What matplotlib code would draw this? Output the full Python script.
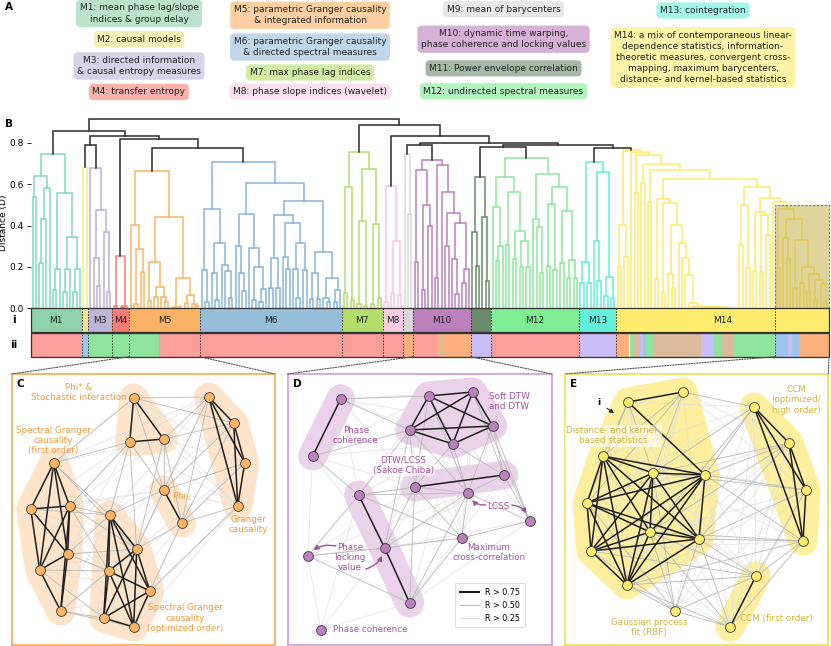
import numpy as np
import matplotlib
matplotlib.use('Agg')
import matplotlib.pyplot as plt
from matplotlib.patches import Rectangle, Polygon, ConnectionPatch
from matplotlib.collections import LineCollection
from matplotlib.lines import Line2D

W, H = 831, 646

# ---- modules -------------------------------------------------------------
MODULES = ['M1', 'M2', 'M3', 'M4', 'M5', 'M6', 'M7', 'M8', 'M9', 'M10', 'M11', 'M12', 'M13', 'M14']
BAR_COLORS = ['#8ed1aa', '#eee98a', '#bcb5d8', '#f47e73', '#fbb264', '#96bdd9', '#b3de69',
              '#fbcce4', '#d9d9d9', '#bc80bd', '#6a8a6b', '#7eed93', '#62f0da', '#ffec6e']
LINE_COLORS = ['#7fd8c0', '#f5f08a', '#b9b0dc', '#f47e73', '#fdb462', '#86b5d9', '#b3de69',
               '#fbc4e0', '#d9d9d9', '#bc80bd', '#6a8a6b', '#8ae89c', '#62f0da', '#ffea6a']
LEGEND_TEXT = [
    'M1: mean phase lag/slope\nindices & group delay',
    'M2: causal models',
    'M3: directed information\n& causal entropy measures',
    'M4: transfer entropy',
    'M5: parametric Granger causality\n& integrated information',
    'M6: parametric Granger causality\n& directed spectral measures',
    'M7: max phase lag indices',
    'M8: phase slope indices (wavelet)',
    'M9: mean of barycenters',
    'M10: dynamic time warping,\nphase coherence and locking values',
    'M11: Power envelope correlation',
    'M12: undirected spectral measures',
    'M13: cointegration',
    'M14: a mix of contemporaneous linear-\ndependence statistics, information-\n'
    'theoretic measures, convergent cross-\nmapping, maximum barycenters,\n'
    'distance- and kernel-based statistics',
]
LEGEND_POS = [(139, 13.5), (139, 39), (139, 66), (139, 92),
              (310, 15.3), (310, 47), (310, 72.5), (310, 91.7),
              (503.5, 9.2), (503.5, 39.2), (503.5, 68.3), (503.5, 91.3),
              (703, 10.5), (703, 57.3)]
UNLABELLED = ['M2', 'M9', 'M11']

# ---- dendrogram: (height, left, right), 0 = leaf ------------------------
M14_ZERO = (0.005, (0.003, (0.001, 0, 0), (0.002, 0, (0.001, 0, 0))),
            (0.004, (0.002, 0, 0), (0.003, (0.001, 0, 0), (0.002, 0, (0.001, 0, 0)))))
M14_D = (0.527, (0.14, 0, 0),
         (0.507, (0.073, 0, 0),
          (0.403, (0.165, 0, (0.097, 0, 0)),
           (0.314, 0, (0.242, 0, (0.162, 0, (0.025, 0, (0.012, 0, (0.006, 0, M14_ZERO)))))))))
M14_HIGHLIGHT = (0.478, (0.193, 0, 0),
                 (0.432, (0.342, 0, (0.24, 0, 0)),
                  (0.33, (0.1, 0, 0),
                   (0.2, (0.12, 0, 0),
                    (0.166, (0.08, 0, 0),
                     (0.136, (0.04, 0, 0), (0.116, 0, (0.03, 0, 0))))))))
M14_E = (0.588, (0.499, (0.306, 0, 0), (0.193, 0, 0)),
         (0.532, (0.467, (0.18, 0, 0), (0.451, (0.175, 0, 0), (0.354, 0, 0))),
          (0.512, 0, M14_HIGHLIGHT)))

TREES = {
    'M1': (0.744, (0.641, (0.536, 0, 0), (0.58, (0.43, (0.22, 0, 0), 0), 0)),
           (0.556, (0.19, (0.09, 0, 0), 0), (0.346, (0.19, (0.08, 0, 0), 0), (0.19, (0.08, 0, 0), 0)))),
    'M2': (0.684, 0, 0),
    'M3': (0.676, 0, (0.475, (0.242, 0, (0.11, 0, 0)), (0.367, 0, (0.08, 0, 0)))),
    'M4': (0.254, (0.01, 0, 0), (0.012, (0.005, 0, 0), 0)),
    'M5': (0.662, (0.403, 0, (0.285, (0.02, 0, 0), (0.174, 0, 0))),
           (0.44, (0.226, (0.035, 0, 0), (0.105, (0.055, 0, 0), (0.055, 0, (0.03, 0, 0)))),
            (0.145, (0.006, (0.003, 0, 0), (0.004, 0, 0)), (0.065, (0.025, 0, 0), (0.02, 0, (0.01, 0, 0)))))),
    'M6': (0.708, (0.478, (0.185, 0, (0.03, 0, 0)),
                   (0.317, (0.17, 0, (0.04, 0, 0)), (0.21, 0, (0.18, 0, (0.05, 0, 0))))),
           (0.604, (0.456, (0.3, 0, (0.17, 0, (0.085, 0, 0))),
                    (0.29, 0, (0.2, (0.04, 0, 0), (0.094, (0.03, 0, 0), 0)))),
            (0.519, (0.451, (0.242, (0.097, 0, 0), (0.097, 0, 0)),
                     (0.41, (0.25, 0, (0.19, 0, 0)), (0.315, (0.19, 0, (0.05, 0, 0)), (0.185, 0, 0)))),
             (0.274, (0.17, (0.045, 0, 0), (0.045, 0, 0)),
              (0.148, (0.05, 0, (0.03, 0, 0)), (0.09, (0.03, 0, 0), 0)))))),
    'M7': (0.757, (0.588, (0.073, 0, 0), (0.04, 0, 0)),
           (0.673, (0.42, (0.02, 0, 0), (0.01, 0, 0)), (0.405, (0.02, 0, 0), (0.05, 0, 0)))),
    'M8': (0.591, (0.03, 0, 0), (0.325, (0.073, 0, 0), (0.065, 0, 0))),
    'M9': (0.744, 0, (0.456, 0, 0)),
    'M10': (0.717, (0.668, (0.225, 0, 0), (0.5, (0.09, 0, 0), (0.4, 0, 0))),
            (0.692, (0.145, 0, 0),
             (0.563, 0, (0.46, (0.3, 0, 0), (0.41, (0.24, 0, (0.07, 0, 0)), (0.19, (0.12, 0, 0), 0)))))),
    'M11': (0.636, (0.37, 0, (0.206, 0, 0)), (0.443, 0, (0.13, 0, 0))),
    'M12': (0.728, (0.633, (0.49, 0, (0.303, (0.23, 0, 0), 0)),
                    (0.56, (0.306, 0, 0), (0.374, (0.238, 0, 0), (0.323, (0.2, 0, 0), (0.2, 0, 0))))),
            (0.649, (0.432, 0, (0.395, 0, (0.17, 0, 0))),
             (0.588, (0.504, (0.206, 0, 0), (0.185, 0, 0)),
              (0.47, (0.218, 0, 0), (0.234, (0.145, 0, 0), (0.145, 0, 0)))))),
    'M13': (0.708, (0.225, (0.12, 0, 0), (0.12, 0, 0)),
            (0.657, (0.323, 0, (0.13, 0, 0)), (0.153, (0.06, 0, 0), (0.05, 0, 0)))),
    'M14': (0.765, (0.402, (0.2, 0, 0), (0.25, 0, 0)),
            (0.757, 0, (0.741, (0.555, 0, 0), (0.696, (0.604, 0, 0),
                                                 (0.668, (0.512, 0, 0), (0.625, M14_D, M14_E)))))),
}
TOP_TREE = (0.915,
            (0.857, 'M1', (0.834, (0.789, 'M2', 'M3'), (0.818, 'M4', (0.773, 'M5', 'M6')))),
            (0.886, 'M7', (0.834, 'M8', (0.8, (0.787, 'M9', 'M10'),
                                         (0.79, (0.781, 'M11', 'M12'), (0.773, 'M13', 'M14'))))))
HIGHLIGHT_LEAVES = 16
HIGHLIGHT_TOP = 0.5
YTICKS = [0.0, 0.2, 0.4, 0.6, 0.8]

# ---- row ii categories ----------------------------------------------------
CATEGORY_COLORS = {'spectral': '#fb9d99', 'infotheory': '#8ee39d', 'causal': '#9ec5f0',
                   'distance': '#fdb07c', 'misc': '#cbbdf7', 'basic': '#dcbb9c'}
II_CATEGORIES = ['spectral', 'causal', 'infotheory', 'spectral', 'distance',
                 'spectral', 'distance', 'basic', 'distance', 'misc', 'spectral', 'misc',
                 'distance', 'infotheory', 'basic', 'misc', 'causal', 'infotheory', 'basic',
                 'misc', 'infotheory', 'basic', 'infotheory', 'causal', 'misc', 'causal', 'distance']
II_COUNTS = [15, 2, 21, 72, 3,
             7, 1, 1, 8, 6, 26, 11,
             4, 1, 2, 1, 1, 2, 14,
             4, 2, 4, 12, 4, 1, 2, 9]

# ---- networks (node positions in px from panel top-left) -----------------
C_NODES = [(122, 24), (118, 68), (152, 65), (197, 23), (222, 49), (233, 89), (226, 132),
           (152, 116), (170, 149), (42, 89), (19, 135), (58, 132), (56, 180), (28, 196),
           (49, 237), (98, 141), (125, 175), (97, 197), (138, 217), (92, 244), (122, 253)]
C_STRONG = [(0, 1), (0, 2), (1, 2), (3, 4), (3, 5), (3, 6), (4, 5), (4, 6), (5, 6), (7, 8),
            (9, 10), (9, 11), (9, 12), (9, 13), (10, 11), (10, 12), (10, 13), (11, 12), (11, 13),
            (11, 14), (12, 13), (12, 14), (13, 14),
            (15, 16), (15, 17), (15, 18), (15, 19), (15, 20), (16, 17), (16, 18), (16, 19),
            (16, 20), (17, 18), (17, 19), (17, 20), (18, 19), (18, 20), (19, 20)]
C_MEDIUM = [(9, 15), (11, 15), (11, 16), (12, 15), (12, 17), (13, 17), (14, 19), (14, 17),
            (10, 15), (12, 16), (11, 17), (13, 19), (14, 20), (9, 16), (0, 7), (1, 7), (2, 7),
            (2, 8), (3, 7), (4, 7), (5, 8), (6, 8), (4, 8), (2, 3), (0, 3), (1, 15), (2, 16),
            (7, 16), (8, 16), (8, 18), (7, 15), (6, 18), (1, 9), (0, 9), (1, 11), (2, 4),
            (5, 7), (3, 8), (0, 4), (1, 16)]
C_WEAK = [(9, 0), (9, 2), (10, 1), (11, 1), (11, 2), (12, 1), (12, 7), (13, 15), (14, 15),
          (14, 16), (10, 16), (10, 17), (13, 16), (12, 18), (11, 7), (15, 3), (16, 3), (17, 7),
          (19, 7), (20, 8), (18, 6), (17, 8), (16, 5), (15, 4), (0, 5), (1, 3), (2, 5), (0, 6),
          (1, 6), (2, 6), (6, 7), (8, 5), (9, 3), (19, 16), (20, 12), (13, 18), (10, 7),
          (14, 18), (20, 6), (19, 8)]
C_GROUPS = [[0, 1, 2], [3, 4, 5, 6], [7, 8], [9, 10, 11, 12, 13, 14], [15, 16, 17, 18, 19, 20]]

D_NODES = [(53, 25), (25, 82), (141, 22), (185, 18), (122, 56), (205, 52), (165, 70),
           (127, 113), (216, 101), (180, 119), (242, 147), (174, 164), (71, 121), (97, 174),
           (122, 229), (20, 182), (33, 256)]
D_STRONG = [(0, 1), (2, 3), (2, 4), (2, 5), (2, 6), (3, 4), (3, 5), (3, 6), (4, 5), (4, 6),
            (5, 6), (7, 8), (12, 13), (13, 14)]
D_MEDIUM = [(7, 9), (8, 9), (8, 10), (9, 11), (10, 11), (7, 11), (6, 7), (6, 8), (4, 7),
            (5, 8), (6, 9), (2, 7), (3, 8), (12, 7), (13, 7), (13, 11), (14, 11), (15, 13),
            (15, 14), (1, 12), (0, 2), (0, 4), (1, 4), (12, 4), (13, 4), (14, 7), (5, 9),
            (5, 10), (12, 11), (15, 12), (9, 10), (3, 10), (4, 9), (2, 9), (14, 9), (13, 9),
            (12, 9)]
D_WEAK = [(0, 3), (1, 2), (1, 6), (0, 6), (0, 12), (1, 15), (15, 16), (16, 14), (16, 12),
          (16, 13), (12, 6), (13, 6), (14, 6), (12, 2), (13, 2), (14, 8), (14, 10), (13, 8),
          (13, 10), (15, 11), (15, 7), (1, 7), (0, 7), (3, 9), (2, 10), (6, 11), (4, 11),
          (12, 8), (1, 13), (0, 5), (5, 11), (3, 11), (2, 11), (15, 9)]
D_GROUPS = [[0, 1], [2, 3, 4, 5, 6], [7, 8], [12, 13, 14]]

E_NODES = [(63, 28), (118, 18), (38, 82), (88, 99), (140, 101), (22, 129), (85, 158),
           (134, 165), (26, 177), (62, 211), (189, 33), (224, 69), (241, 116), (238, 167),
           (191, 202), (165, 253), (110, 237)]
E_STRONG = [(0, 1), (0, 4),
            (2, 3), (2, 4), (2, 5), (2, 6), (2, 7), (2, 8), (2, 9), (3, 4), (3, 5), (3, 6),
            (3, 7), (3, 8), (3, 9), (4, 5), (4, 6), (4, 7), (4, 8), (4, 9), (5, 6), (5, 7),
            (5, 8), (5, 9), (6, 7), (6, 8), (6, 9), (7, 8), (7, 9), (8, 9),
            (10, 11), (10, 12), (10, 13), (11, 12), (11, 13), (12, 13), (14, 15)]
E_MEDIUM = [(0, 2), (0, 3), (1, 3), (1, 2), (1, 5), (0, 5), (4, 10), (4, 11), (4, 12),
            (7, 12), (7, 13), (7, 14), (6, 14), (9, 14), (9, 15), (9, 16), (8, 16), (6, 16),
            (7, 16), (3, 10), (1, 10), (4, 13), (7, 11), (12, 14), (13, 14), (13, 15),
            (14, 16), (15, 16), (3, 16), (5, 16), (6, 10), (6, 11), (3, 11), (9, 13), (8, 14),
            (7, 15), (6, 15), (3, 12), (6, 13)]
E_WEAK = [(0, 6), (0, 7), (0, 8), (0, 9), (1, 6), (1, 7), (1, 9), (1, 8), (0, 10), (1, 11),
          (1, 12), (2, 10), (5, 10), (5, 11), (8, 13), (8, 12), (9, 12), (9, 11), (9, 10),
          (2, 14), (5, 14), (5, 15), (8, 15), (2, 16), (3, 14), (3, 13), (4, 14), (4, 15),
          (4, 16), (10, 14), (10, 15), (10, 16), (11, 14), (11, 16), (12, 16), (12, 15),
          (11, 15), (2, 12), (3, 15), (0, 16)]
E_GROUPS = [[0, 1, 2, 3, 4, 5, 6, 7, 8, 9], [10, 11, 12, 13], [14, 15]]


def draw_tree(ax, node, color, state):
    if isinstance(node, str):
        i = MODULES.index(node)
        start = state['n']
        res = draw_tree(ax, TREES[node], LINE_COLORS[i], state)
        state['spans'].append((node, start, state['n']))
        return res
    if node == 0:
        x = state['n'] + 0.5
        state['n'] += 1
        return x, 0.0
    h, left, right = node
    xl, hl = draw_tree(ax, left, color, state)
    xr, hr = draw_tree(ax, right, color, state)
    ax.plot([xl, xl, xr, xr], [hl, h, h, hr], color=color, lw=1.1, clip_on=False,
            solid_joinstyle='miter', zorder=2)
    return (xl + xr) / 2, h


def convex_hull(pts):
    pts = sorted(set(pts))
    if len(pts) < 3:
        return pts

    def cross(o, a, b):
        return (a[0] - o[0]) * (b[1] - o[1]) - (a[1] - o[1]) * (b[0] - o[0])
    lower, upper = [], []
    for p in pts:
        while len(lower) >= 2 and cross(lower[-2], lower[-1], p) <= 0:
            lower.pop()
        lower.append(p)
    for p in reversed(pts):
        while len(upper) >= 2 and cross(upper[-2], upper[-1], p) <= 0:
            upper.pop()
        upper.append(p)
    return lower[:-1] + upper[:-1]


def draw_network(ax, nodes, strong, medium, weak, groups, hull_color, node_color):
    nodes = np.array(nodes, dtype=float)
    for g in groups:
        hull = convex_hull([tuple(nodes[i]) for i in g])
        ax.add_patch(Polygon(hull, closed=True, fc=hull_color, ec=hull_color, lw=21,
                             joinstyle='round', capstyle='round', zorder=1))
    for edges, col, lw, z in [(weak, '#e0e0e0', 0.5, 2), (medium, '#b8b8b8', 0.6, 2.5),
                              (strong, '#1e1e1e', 1.1, 3)]:
        segs = [[nodes[a], nodes[b]] for a, b in edges]
        ax.add_collection(LineCollection(segs, colors=col, linewidths=lw, zorder=z))
    ax.scatter(nodes[:, 0], nodes[:, 1], s=50, c=node_color, edgecolors='#3a3a3a',
               linewidths=0.6, zorder=4)


fig = plt.figure(figsize=(W / 100, H / 100), dpi=100)


def px_axes(x0, y0, x1, y1):
    return fig.add_axes([x0 / W, 1 - y1 / H, (x1 - x0) / W, (y1 - y0) / H])


# overlay in pixel coordinates for panel A and labels
over = px_axes(0, 0, W, H)
over.set_xlim(0, W)
over.set_ylim(H, 0)
over.axis('off')
for i, (txt, (x, y)) in enumerate(zip(LEGEND_TEXT, LEGEND_POS)):
    over.text(x, y, txt, ha='center', va='center', fontsize=6.5, color='#222222',
              linespacing=1.3,
              bbox=dict(boxstyle='round,pad=0.4,rounding_size=0.5', fc=BAR_COLORS[i],
                        ec='none', alpha=0.6))
over.text(5, 7, 'A', fontsize=7.5, fontweight='bold', va='center')
over.text(5, 124, 'B', fontsize=7.5, fontweight='bold', va='center')

# ---- B: dendrogram --------------------------------------------------------
dax = px_axes(31, 115, 829, 308.3)
state = {'n': 0, 'spans': []}
draw_tree(dax, TOP_TREE, '#2b2b2b', state)
N = state['n']
dax.set_xlim(0, N)
dax.set_ylim(0, 0.934)
for s in dax.spines.values():
    s.set_visible(False)
dax.set_xticks([])
dax.set_yticks(YTICKS)
dax.set_yticklabels([f'{t:.1f}' for t in YTICKS], fontsize=6.5)
dax.tick_params(axis='y', length=3, width=0.6, pad=2)
dax.set_ylabel('Distance (D)', fontsize=6.5)
dax.yaxis.set_label_coords(-0.0285, 0.44)
dax.patch.set_alpha(0)
dax.add_patch(Rectangle((N - HIGHLIGHT_LEAVES, 0), HIGHLIGHT_LEAVES, HIGHLIGHT_TOP,
                        fc='#c2ab3c', alpha=0.5, ec='none', zorder=5, clip_on=False))
dax.add_patch(Rectangle((N - HIGHLIGHT_LEAVES, 0), HIGHLIGHT_LEAVES, HIGHLIGHT_TOP,
                        fill=False, ec='#777777', ls=(0, (2, 1.5)), lw=0.8, zorder=6,
                        clip_on=False))

# bars i / ii
bax = px_axes(31, 308.3, 829, 356.7)
bax.set_xlim(0, N)
bax.set_ylim(2.04, 0)
bax.axis('off')
for name, a, b in state['spans']:
    i = MODULES.index(name)
    bax.barh(0.5, b - a, left=a, height=1.0, color=BAR_COLORS[i], lw=0)
    if name not in UNLABELLED:
        bax.text((a + b) / 2, 0.5, name, ha='center', va='center', fontsize=6.5,
                 color='#222222')
left = 0
for cat, n in zip(II_CATEGORIES, II_COUNTS):
    bax.barh(1.54, n, left=left, height=1.0, color=CATEGORY_COLORS[cat], lw=0)
    left += n
for yc in (0.5, 1.54):
    bax.add_patch(Rectangle((0, yc - 0.5), N, 1.0, fill=False, ec='#333333', lw=0.9,
                            clip_on=False, zorder=4))
bounds = [b for _, _, b in state['spans'][:-1]] + [N - HIGHLIGHT_LEAVES]
for x in bounds:
    bax.plot([x, x], [0, 2.04], ls=(0, (1.5, 1.5)), color='#333333', lw=0.7, zorder=3)
bax.text(-0.021, 0.5, 'i', transform=bax.get_yaxis_transform(), ha='center', va='center',
         fontsize=7.5, fontweight='bold')
bax.text(-0.021, 1.54, 'ii', transform=bax.get_yaxis_transform(), ha='center', va='center',
         fontsize=7.5, fontweight='bold')

# ---- panels C, D, E --------------------------------------------------------
def panel(box, edge_color, letter):
    x0, y0, x1, y1 = box
    ax = px_axes(x0, y0, x1, y1)
    ax.set_xlim(0, x1 - x0)
    ax.set_ylim(y1 - y0, 0)
    ax.set_xticks([])
    ax.set_yticks([])
    for s in ax.spines.values():
        s.set_color(edge_color)
        s.set_linewidth(1.4)
    ax.text(5, 10, letter, fontsize=7.5, fontweight='bold', va='center', zorder=6)
    return ax


cax = panel((11.7, 374, 275, 645), '#f8b46a', 'C')
draw_network(cax, C_NODES, C_STRONG, C_MEDIUM, C_WEAK, C_GROUPS, '#fde4cb', '#fdb462')
ctext = dict(ha='center', va='center', fontsize=6.3, color='#f09a3e', zorder=6)
cax.text(67, 18.5, 'Phi* &\nStochastic interaction', **ctext)
cax.text(41.6, 66.5, 'Spectral Granger\ncausality\n(first order)', **ctext)
cax.text(170, 122.7, r'Phi$_\mathregular{G}$', **ctext)
cax.text(236.6, 150.3, 'Granger\ncausality', **ctext)
cax.text(173.3, 244.3, 'Spectral Granger\ncausality\n(optimized order)', **ctext)

dpx = panel((287.7, 374, 551.7, 645), '#d8a8d8', 'D')
draw_network(dpx, D_NODES, D_STRONG, D_MEDIUM, D_WEAK, D_GROUPS, '#ead3ea', '#bc80bd')
dcol = '#a24fa0'
dtext = dict(ha='center', va='center', fontsize=6.3, color=dcol, zorder=6)
dpx.text(68, 61.7, 'Phase\ncoherence', **dtext)
dpx.text(221.3, 27.7, 'Soft DTW\nand DTW', **dtext)
dpx.text(115.6, 91, 'DTW/LCSS\n(Sakoe Chiba)', bbox=dict(fc='white', ec='none', alpha=0.6,
                                                        pad=1), **dtext)
dpx.text(210.6, 132.7, 'LCSS', **dtext)
dpx.text(201.3, 178.3, 'Maximum\ncross-correlation', **dtext)
dpx.text(62.3, 183.5, 'Phase\nlocking\nvalue', **dtext)
dpx.text(45.6, 255.3, 'Phase coherence', ha='left', va='center', fontsize=6.3, color=dcol,
         zorder=6)
arrow = dict(arrowstyle='-|>', color=dcol, lw=1.0, mutation_scale=7, shrinkA=0, shrinkB=6)
dpx.annotate('', xy=D_NODES[9], xytext=(198, 131),
             arrowprops=dict(connectionstyle='arc3,rad=-0.35', **arrow), zorder=6)
dpx.annotate('', xy=D_NODES[10], xytext=(224, 131),
             arrowprops=dict(connectionstyle='arc3,rad=-0.35', **arrow), zorder=6)
dpx.annotate('', xy=D_NODES[15], xytext=(48, 172),
             arrowprops=dict(connectionstyle='arc3,rad=0.3', **arrow), zorder=6)
dpx.annotate('', xy=D_NODES[13], xytext=(78, 195),
             arrowprops=dict(connectionstyle='arc3,rad=0.3', **arrow), zorder=6)
handles = [Line2D([], [], color='#1e1e1e', lw=1.5, label='R > 0.75'),
           Line2D([], [], color='#b8b8b8', lw=0.8, label='R > 0.50'),
           Line2D([], [], color='#e0e0e0', lw=0.8, label='R > 0.25')]
leg = dpx.legend(handles=handles, loc='lower right', bbox_to_anchor=(0.915, 0.05),
                 fontsize=5.8, frameon=True, fancybox=True, handlelength=2.4,
                 borderpad=0.6, labelspacing=0.5)
leg.get_frame().set_edgecolor('#cccccc')
leg.get_frame().set_linewidth(0.6)
leg.set_zorder(7)

eax = panel((565, 374, 828.3, 645), '#f6e06a', 'E')
draw_network(eax, E_NODES, E_STRONG, E_MEDIUM, E_WEAK, E_GROUPS, '#fdef9e', '#ffec6e')
ecol = '#d2b23a'
etext = dict(ha='center', va='center', fontsize=6.3, color=ecol, zorder=6)
eax.text(48.3, 61.7, 'Distance- and kernel-\nbased statistics',
         bbox=dict(fc='white', ec='none', alpha=0.6, pad=1), **etext)
eax.text(231, 25.7, 'CCM\n(optimized/\nhigh order)', **etext)
eax.text(84.3, 253.5, 'Gaussian process\nfit (RBF)', **etext)
eax.text(211.7, 244.3, 'CCM (first order)', **etext)
eax.annotate('i', xy=(49, 39.3), xytext=(34.3, 28.7), fontsize=6.5, ha='center', va='center',
             fontweight='bold', zorder=6,
             arrowprops=dict(arrowstyle='-|>', color='#222222', lw=0.8, mutation_scale=6,
                             shrinkA=3, shrinkB=0))

# dotted connectors from the bars to the zoom panels
spans = {name: (a, b) for name, a, b in state['spans']}
targets = [(cax, spans['M5']), (dpx, spans['M10']), (eax, (N - HIGHLIGHT_LEAVES, N))]
for ax_p, (a, b) in targets:
    for xa, xb in [(a, 0), (b, 1)]:
        con = ConnectionPatch(xyA=(xa, 2.04), coordsA='data', axesA=bax,
                              xyB=(xb, 1), coordsB='axes fraction', axesB=ax_p,
                              ls=(0, (1.2, 1.2)), color='#555555', lw=0.8)
        fig.add_artist(con)

fig.savefig('out.png', dpi=100)
